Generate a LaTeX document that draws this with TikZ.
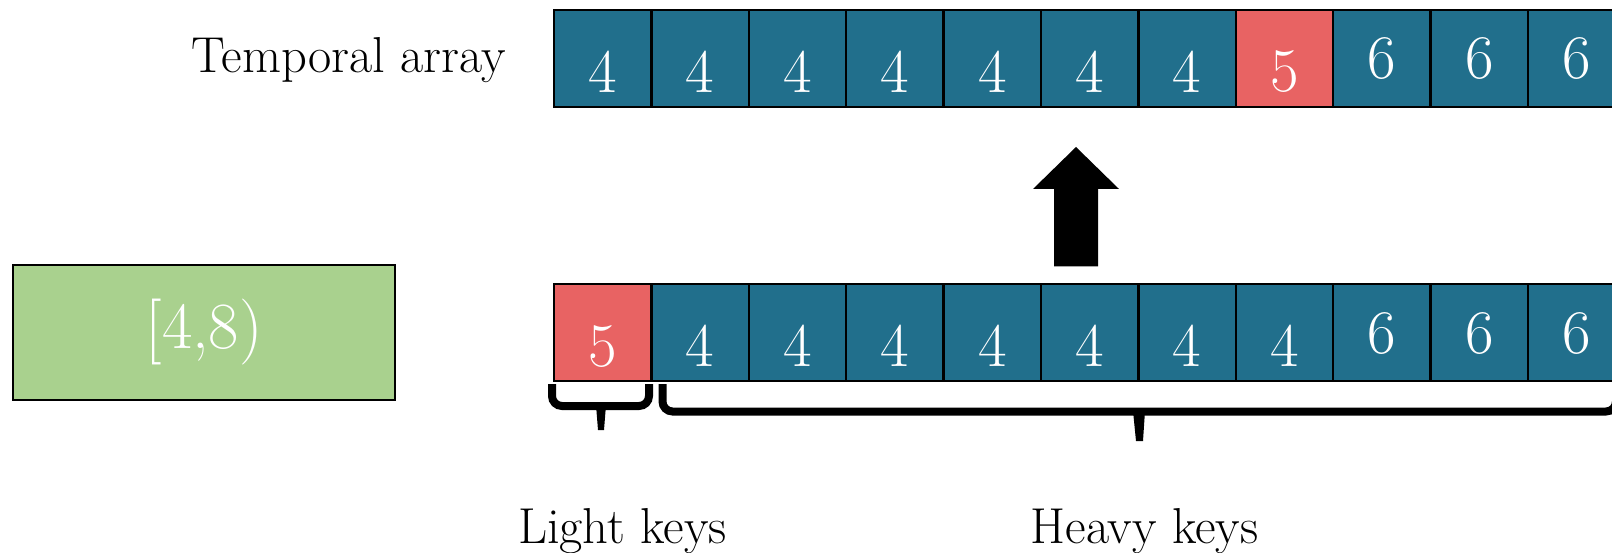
\documentclass[tikz,border=0pt]{standalone}
\definecolor{cteal}{HTML}{216F8C}
\definecolor{cred}{HTML}{E86363}
\definecolor{cgreen}{HTML}{A9D18E}
\tikzset{
  cell/.style={draw=black, line width=2.5pt, minimum width=97.4pt, minimum height=97pt, inner sep=0pt, outer sep=0pt},
  digit/.style={text=white, font=\fontsize{62}{64}\selectfont, inner sep=0pt},
  lbl/.style={font=\fontsize{50.5}{54}\selectfont, inner sep=0pt, anchor=base},
  bracepath/.style={line width=8pt, rounded corners=10pt},
  rangebox/.style={draw=black, line width=2.5pt, fill=cgreen, minimum width=382pt, minimum height=135pt, text=white, font=\fontsize{66}{70}\selectfont}
}
\begin{document}
\begin{tikzpicture}[x=1pt,y=-1pt]
\useasboundingbox (0,0) rectangle (1612,553);
\clip (0,0) rectangle (1612,553);
% top row
\foreach \v [count=\i from 0] in {4,4,4,4,4,4,4,5,6,6,6}{
  \ifnum\v=5 \def\col{cred}\def\dy{-13}\else\def\col{cteal}\ifnum\v=6 \def\dy{0}\else\def\dy{-13}\fi\fi
  \node[cell, fill=\col] (t\i) at ({554+97.4*(\i+0.5)}, 58.5) {};
  \node[digit] at ([yshift=\dy pt]t\i.center) {\v};
}
% bottom row
\foreach \v [count=\i from 0] in {5,4,4,4,4,4,4,4,6,6,6}{
  \ifnum\v=5 \def\col{cred}\def\dy{-14}\else\def\col{cteal}\ifnum\v=6 \def\dy{-1}\else\def\dy{-13}\fi\fi
  \node[cell, fill=\col] (b\i) at ({554+97.4*(\i+0.5)}, 332.5) {};
  \node[digit] at ([yshift=\dy pt]b\i.center) {\v};
}
% labels
\node[lbl, anchor=base east] (tl) at (506,73) {Temporal array};
\node[lbl] (lk) at (622.5,543) {Light keys};
\node[lbl] (hk) at (1144.5,543) {Heavy keys};
% range box
\node[rangebox] (range) at (204,332.5) {[4,8)};
% block arrow
\fill (1076,147) -- (1119,189) -- (1098,189) -- (1098,266.5) -- (1054,266.5) -- (1054,189) -- (1033,189) -- cycle;
% light brace
\draw[bracepath] (552,384) -- (552,406) -- (649,406) -- (649,384);
\fill (596,405) -- (606,405) -- (604,430) -- (598,430) -- cycle;
% heavy brace
\draw[bracepath] (662.5,384) -- (662.5,411.5) -- (1616,411.5) -- (1616,384);
\fill (1133,411) -- (1145,411) -- (1143,441) -- (1136,441) -- cycle;
\end{tikzpicture}
\end{document}
